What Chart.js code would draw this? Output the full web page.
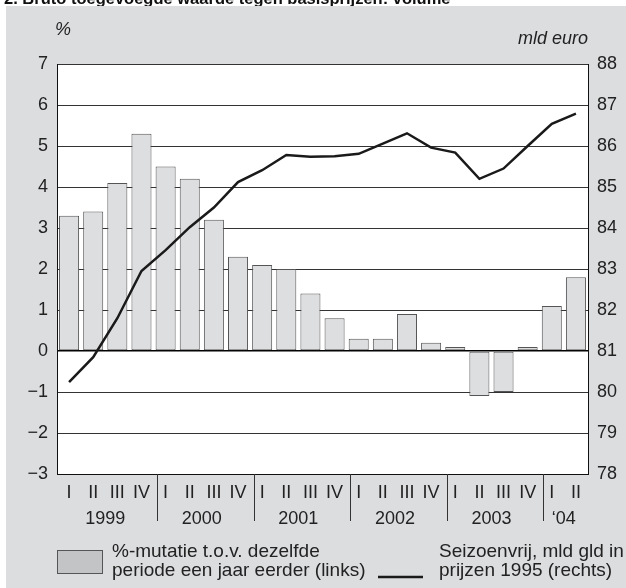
<!DOCTYPE html>
<html>
<head>
<meta charset="utf-8">
<script src="https://cdn.jsdelivr.net/npm/chart.js@4/dist/chart.umd.min.js"></script>
<style>
  html, body { margin: 0; padding: 0; background: #ffffff; }
  #wrap { width: 626px; height: 588px; }
</style>
</head>
<body>
<div id="wrap"><canvas id="c" width="626" height="588"></canvas></div>
<script>
const quarterLabels = ['I','II','III','IV','I','II','III','IV','I','II','III','IV','I','II','III','IV','I','II','III','IV','I','II'];
const yearLabels = ['1999','2000','2001','2002','2003','\u201804'];
const yearStartIndex = [0, 4, 8, 12, 16, 20];
const pctChange = [3.3, 3.4, 4.1, 5.3, 4.5, 4.2, 3.2, 2.3, 2.1, 2.0, 1.4, 0.8, 0.3, 0.3, 0.9, 0.2, 0.1, -1.1, -1.0, 0.1, 1.1, 1.8];
const volumeBn = [80.24, 80.85, 81.8, 82.95, 83.46, 84.02, 84.5, 85.12, 85.41, 85.78, 85.74, 85.75, 85.81, 86.06, 86.31, 85.96, 85.84, 85.2, 85.45, 86.0, 86.54, 86.79];
const leftTicks = [-3, -2, -1, 0, 1, 2, 3, 4, 5, 6, 7];
const rightTicks = [78, 79, 80, 81, 82, 83, 84, 85, 86, 87, 88];
const titleText = '2. Bruto toegevoegde waarde tegen basisprijzen: volume';
const leftUnit = '%';
const rightUnit = 'mld euro';
const legendBar = ['%-mutatie t.o.v. dezelfde', 'periode een jaar eerder (links)'];
const legendLine = ['Seizoenvrij, mld gld in', 'prijzen 1995 (rechts)'];

const FONT = '"Liberation Sans", Arial, Helvetica, sans-serif';
const TXT = '#222222';
const fmt = v => v < 0 ? '\u2212' + Math.abs(v) : String(v);

const decor = {
  id: 'decor',
  beforeDraw(chart) {
    const ctx = chart.ctx;
    const a = chart.chartArea;
    ctx.save();
    ctx.fillStyle = '#ffffff';
    ctx.fillRect(0, 0, chart.width, chart.height);
    ctx.fillStyle = '#111';
    ctx.font = 'bold 16.5px ' + FONT;
    ctx.textBaseline = 'alphabetic';
    ctx.textAlign = 'left';
    ctx.fillText(titleText, 4, 4);
    ctx.fillStyle = '#dcdddf';
    ctx.fillRect(6, 6, chart.width - 6, chart.height - 6);
    ctx.fillStyle = '#ffffff';
    ctx.fillRect(a.left, a.top, a.right - a.left, a.bottom - a.top);
    ctx.restore();
  },
  afterDraw(chart) {
    const ctx = chart.ctx;
    const a = chart.chartArea;
    const xs = chart.scales.x;
    ctx.save();
    ctx.fillStyle = TXT;
    ctx.font = 'italic 18px ' + FONT;
    ctx.textBaseline = 'middle';
    ctx.textAlign = 'center';
    ctx.fillText(leftUnit, 63, 30);
    ctx.textAlign = 'right';
    ctx.fillText(rightUnit, 588, 39);

    // year separators and labels
    const step = xs.getPixelForValue(1) - xs.getPixelForValue(0);
    ctx.strokeStyle = '#333';
    ctx.lineWidth = 1;
    ctx.font = '18px ' + FONT;
    ctx.textAlign = 'center';
    yearStartIndex.forEach((s, i) => {
      if (s > 0) {
        const x = Math.round(xs.getPixelForValue(s) - step / 2 + 3.5) + 0.5;
        ctx.beginPath();
        ctx.moveTo(x, a.bottom);
        ctx.lineTo(x, a.bottom + 47);
        ctx.stroke();
      }
      const e = (i + 1 < yearStartIndex.length ? yearStartIndex[i + 1] : quarterLabels.length) - 1;
      const cx = (xs.getPixelForValue(s) + xs.getPixelForValue(e)) / 2;
      ctx.fillText(yearLabels[i], cx, 519);
    });

    // legend
    ctx.font = '19px ' + FONT;
    ctx.fillStyle = '#c3c4c6';
    ctx.fillRect(57, 550, 45, 23);
    ctx.strokeStyle = '#555';
    ctx.strokeRect(57.5, 550.5, 45, 23);
    ctx.fillStyle = TXT;
    ctx.textAlign = 'left';
    ctx.fillText(legendBar[0], 112, 552);
    ctx.fillText(legendBar[1], 112, 571);
    ctx.strokeStyle = '#1a1a1a';
    ctx.lineWidth = 2.5;
    ctx.beginPath();
    ctx.moveTo(378, 577);
    ctx.lineTo(423, 577);
    ctx.stroke();
    ctx.fillText(legendLine[0], 439, 552);
    ctx.fillText(legendLine[1], 439, 571);
    ctx.restore();
  }
};

new Chart(document.getElementById('c'), {
  type: 'bar',
  data: {
    labels: quarterLabels,
    datasets: [
      {
        type: 'line',
        data: volumeBn,
        yAxisID: 'y1',
        borderColor: '#1a1a1a',
        borderWidth: 2.5,
        pointRadius: 0,
        tension: 0,
        fill: false,
        order: 0
      },
      {
        type: 'bar',
        data: pctChange,
        yAxisID: 'y',
        backgroundColor: '#dddee0',
        borderColor: '#555555',
        borderWidth: 1,
        borderSkipped: false,
        categoryPercentage: 1,
        barPercentage: 0.83,
        order: 1
      }
    ]
  },
  options: {
    responsive: false,
    animation: false,
    events: [],
    layout: { padding: { top: 64, left: 0, right: 0, bottom: 0 } },
    plugins: { legend: { display: false }, tooltip: { enabled: false }, title: { display: false } },
    scales: {
      x: {
        offset: true,
        grid: { display: false, drawTicks: false },
        border: { display: true, color: '#111', width: 1 },
        ticks: { color: TXT, font: { family: FONT, size: 18 }, padding: 8, maxRotation: 0, autoSkip: false },
        afterFit(s) { s.height = 114; }
      },
      y: {
        position: 'left',
        min: leftTicks[0],
        max: leftTicks[leftTicks.length - 1],
        afterBuildTicks(s) { s.ticks = leftTicks.map(v => ({ value: v })); },
        grid: {
          drawTicks: false,
          color: ctx => ctx.tick && ctx.tick.value === 0 ? '#000' : '#333',
          lineWidth: ctx => ctx.tick && ctx.tick.value === 0 ? 1.6 : 1
        },
        border: { display: true, color: '#111', width: 1 },
        ticks: { color: TXT, font: { family: FONT, size: 18 }, padding: 9, callback: v => fmt(v) },
        afterFit(s) { s.width = 57; }
      },
      y1: {
        position: 'right',
        min: rightTicks[0],
        max: rightTicks[rightTicks.length - 1],
        afterBuildTicks(s) { s.ticks = rightTicks.map(v => ({ value: v })); },
        grid: { drawOnChartArea: false, drawTicks: false },
        border: { display: true, color: '#111', width: 1 },
        ticks: { color: TXT, font: { family: FONT, size: 18 }, padding: 9, callback: v => fmt(v) },
        afterFit(s) { s.width = 38; }
      }
    }
  },
  plugins: [decor]
});
</script>
</body>
</html>
